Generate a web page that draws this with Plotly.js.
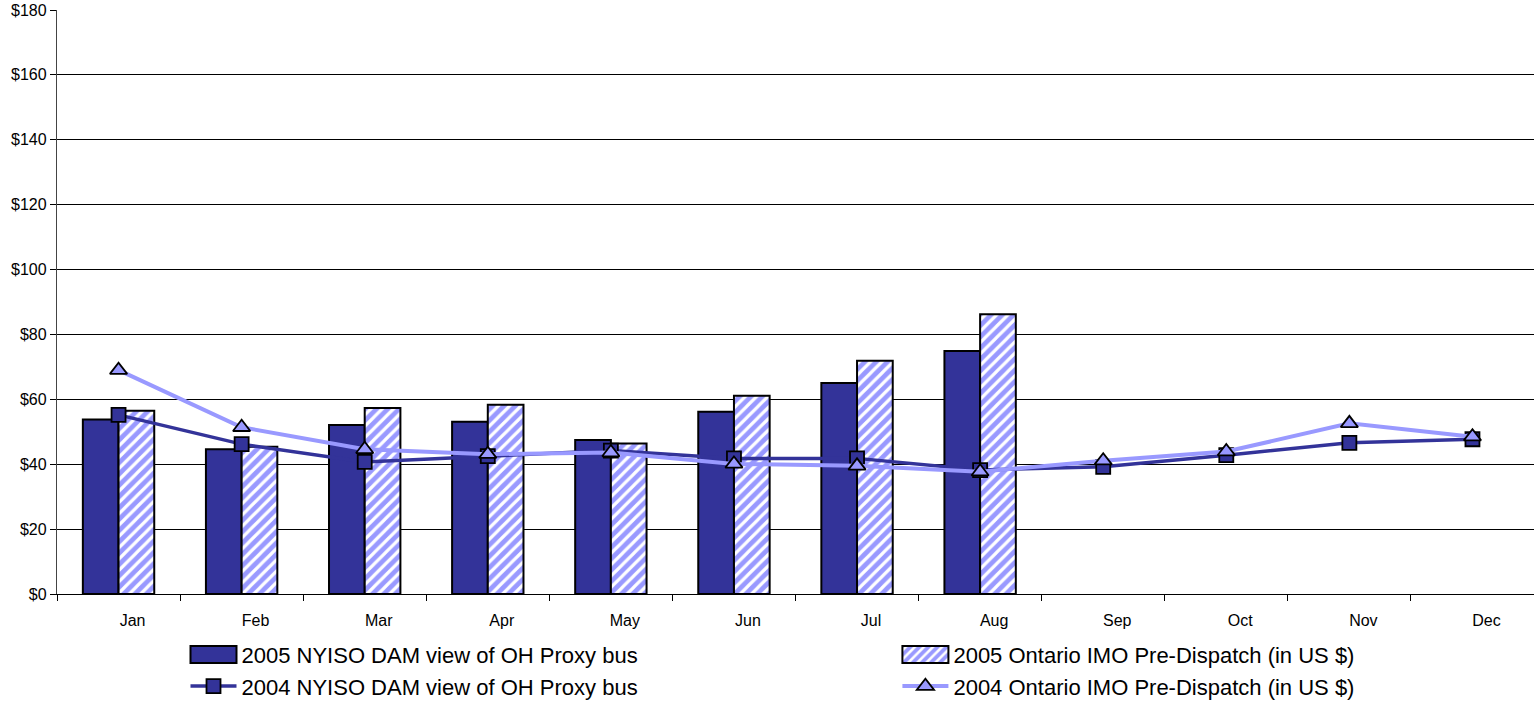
<!DOCTYPE html>
<html>
<head>
<meta charset="utf-8">
<script src="https://cdn.plot.ly/plotly-3.0.1.min.js"></script>
<style>html,body{margin:0;padding:0;background:#fff;}#chart{width:1534px;height:702px;}</style>
</head>
<body>
<div id="chart"></div>
<script>
const months = ["Jan","Feb","Mar","Apr","May","Jun","Jul","Aug","Sep","Oct","Nov","Dec"];
const nyiso2005 = [53.8, 44.6, 52.1, 53.1, 47.5, 56.2, 65.0, 74.9, null, null, null, null];
const ontario2005 = [56.5, 45.4, 57.3, 58.3, 46.4, 61.1, 71.9, 86.2, null, null, null, null];
const nyiso2004 = [55.2, 46.2, 40.7, 42.5, 44.2, 41.8, 41.8, 38.2, 39.2, 42.8, 46.6, 47.7];
const ontario2004 = [69.0, 51.4, 44.6, 43.1, 43.6, 40.1, 39.5, 37.7, 41.1, 43.9, 52.6, 48.5];
const yTickVals = [0,20,40,60,80,100,120,140,160,180];
const yTickText = ["$0","$20","$40","$60","$80","$100","$120","$140","$160","$180"];

const dark = "#333399", light = "#9999FF";
const traces = [
  {type:"bar", name:"2005 NYISO DAM view of OH Proxy bus", x:months, y:nyiso2005,
   marker:{color:dark, line:{color:"#000", width:2}}, legend:"legend"},
  {type:"bar", name:"2005 Ontario IMO Pre-Dispatch (in US $)", x:months, y:ontario2005,
   marker:{color:light, line:{color:"#000", width:2},
     pattern:{shape:"/", bgcolor:light, fgcolor:"#ffffff", size:8, solidity:0.4}}, legend:"legend2"},
  {type:"scatter", mode:"lines+markers", name:"2004 NYISO DAM view of OH Proxy bus", x:months, y:nyiso2004,
   line:{color:dark, width:3.5}, marker:{symbol:"square", size:14, color:dark, line:{color:"#000", width:1.8}}, legend:"legend"},
  {type:"scatter", mode:"lines+markers", name:"2004 Ontario IMO Pre-Dispatch (in US $)", x:months, y:ontario2004,
   line:{color:light, width:4}, marker:{symbol:"triangle-up", size:15, color:light, line:{color:"#000", width:1.8}}, legend:"legend2"}
];

const layout = {
  width:1534, height:702,
  margin:{l:57, r:0, t:10, b:108, autoexpand:false},
  paper_bgcolor:"#fff", plot_bgcolor:"#fff",
  font:{family:"Liberation Sans, Arial, sans-serif", color:"#000"},
  barmode:"group", bargap:0.42, bargroupgap:0,
  xaxis:{type:"category", categoryorder:"array", categoryarray:months,
    showline:true, linecolor:"#000", linewidth:1.2, mirror:false,
    ticks:"outside", tickson:"boundaries", ticklen:6, tickcolor:"#000",
    tickfont:{size:16}, ticklabelshift:14, ticklabelstandoff:12,
    showgrid:false, zeroline:false, range:[-0.5, 11.5], fixedrange:true, automargin:false},
  yaxis:{range:[0,180], tickvals:yTickVals, ticktext:yTickText,
    showline:true, linecolor:"#444", linewidth:1.2,
    ticks:"outside", ticklen:6, tickcolor:"#000", tickfont:{size:16},
    showgrid:true, gridcolor:"#000", gridwidth:1, zeroline:false, fixedrange:true, automargin:false},
  showlegend:true,
  legend:{x:0.087, y:-0.068, xanchor:"left", yanchor:"top", orientation:"v",
    font:{size:22}, itemwidth:46, bgcolor:"rgba(0,0,0,0)", tracegroupgap:0},
  legend2:{x:0.569, y:-0.068, xanchor:"left", yanchor:"top", orientation:"v",
    font:{size:22}, itemwidth:46, bgcolor:"rgba(0,0,0,0)", tracegroupgap:0}
};
Plotly.newPlot("chart", traces, layout, {displayModeBar:false, staticPlot:true}).then(function(gd){
  // widen the bar swatches in the legend to the wide rectangle style
  gd.querySelectorAll('.legendpoints path').forEach(function(p){
    const d = p.getAttribute('d') || '';
    if (d.replace(/\s/g,'') === 'M6,6H-6V-6H6Z') {
      p.setAttribute('d', 'M23,8.5H-23V-8.5H23Z');
    }
  });
});
</script>
</body>
</html>
